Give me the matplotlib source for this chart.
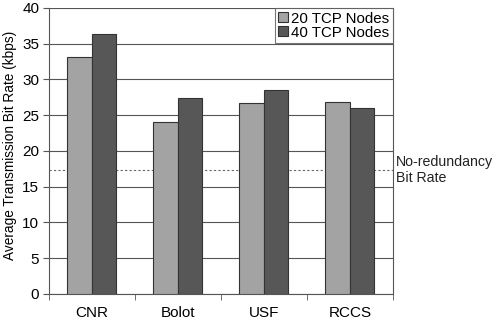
import numpy as np
import matplotlib.pyplot as plt

# data
categories = ["CNR", "Bolot", "USF", "RCCS"]
nodes_20 = [33.1, 24.05, 26.7, 26.9]
nodes_40 = [36.4, 27.45, 28.6, 26.05]
no_redundancy = 17.3
series_labels = ["20 TCP Nodes", "40 TCP Nodes"]

plt.rcParams["font.family"] = ["Liberation Sans", "DejaVu Sans"]

fig = plt.figure(figsize=(4.98, 3.25), dpi=100)
ax = fig.add_axes([0.0984, 0.0954, 0.6906, 0.8800])

x = np.arange(len(categories))
w = 0.285
ax.bar(x - w / 2, nodes_20, w, color="#a3a3a3", edgecolor="#333333",
       linewidth=0.8, label=series_labels[0], zorder=3)
ax.bar(x + w / 2, nodes_40, w, color="#575757", edgecolor="#333333",
       linewidth=0.8, label=series_labels[1], zorder=3)

ax.axhline(no_redundancy, color="#666666", linestyle=(0, (2, 2)),
           linewidth=0.8, zorder=2)
ax.text(1.01, no_redundancy, "No-redundancy\nBit Rate", transform=ax.get_yaxis_transform(),
        ha="left", va="center", fontsize=10.2, color="#222222", linespacing=1.15)

ax.set_xlim(-0.5, len(categories) - 0.5)
ax.set_ylim(0, 40)
ax.set_yticks(range(0, 41, 5))
ax.yaxis.grid(True, color="#555555", linewidth=0.8, zorder=1)

ax.set_xticks(x)
ax.set_xticklabels(categories, fontsize=11)
ax.set_xticks(np.arange(-0.5, len(categories), 1.0), minor=True)
ax.tick_params(axis="x", which="major", length=0, pad=9)
ax.tick_params(axis="x", which="minor", length=4, color="#555555", direction="out")
ax.tick_params(axis="y", labelsize=11, length=4, color="#555555", pad=3)

for side in ["left", "bottom", "right"]:
    ax.spines[side].set_color("#555555")
    ax.spines[side].set_linewidth(0.8)
ax.spines["top"].set_visible(False)

ax.set_ylabel("Average Transmission Bit Rate (kbps)", fontsize=9.8)
ax.yaxis.set_label_coords(-0.092, 0.52)

leg = ax.legend(loc="upper right", fontsize=10.8, frameon=True, fancybox=False,
                borderaxespad=0, handlelength=0.65, handleheight=0.65,
                handletextpad=0.2, labelspacing=0.0, borderpad=0.25)
leg.get_frame().set_edgecolor("#555555")
leg.get_frame().set_linewidth(0.8)

fig.savefig("out.png", dpi=100)
